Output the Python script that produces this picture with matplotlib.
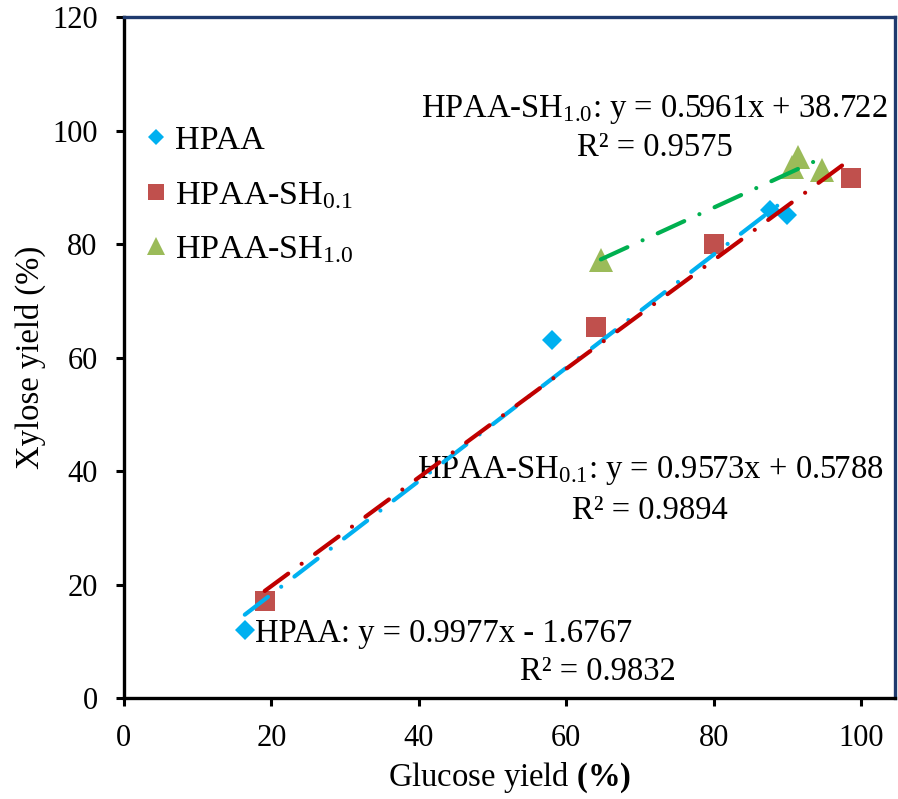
import matplotlib
matplotlib.use('Agg')
import matplotlib.pyplot as plt
import numpy as np

# data
hpaa_x = [16.4, 58.1, 87.6, 90.0]
hpaa_y = [12.0, 63.1, 86.0, 85.1]
sh01_x = [19.1, 64.0, 80.1, 98.6]
sh01_y = [17.1, 65.4, 80.0, 91.6]
sh10_x = [64.7, 90.6, 91.4, 94.7]
sh10_y = [77.2, 93.6, 95.4, 93.0]

# trendline coefficients as printed
hpaa_fit = (0.9977, -1.6767)
sh01_fit = (0.9573, 0.5788)
sh10_fit = (0.5961, 38.722)

plt.rcParams['font.family'] = ['Liberation Serif', 'DejaVu Serif']
plt.rcParams['mathtext.fontset'] = 'custom'
plt.rcParams['mathtext.rm'] = 'Liberation Serif'
plt.rcParams['mathtext.it'] = 'Liberation Serif:italic'
plt.rcParams['mathtext.bf'] = 'Liberation Serif:bold'
plt.rcParams['font.size'] = 23.5

fig = plt.figure(figsize=(8.98, 7.99), dpi=100)
ax = fig.add_axes([0.138, 0.1264, 0.8587, 0.8523])

blue = '#00B0F0'
red = '#C0504D'
green = '#9BBB59'

ax.plot(hpaa_x, hpaa_y, linestyle='none', marker='D', markersize=10.5,
        color=blue, markeredgewidth=0, label='HPAA', zorder=3)
ax.plot(sh01_x, sh01_y, linestyle='none', marker='s', markersize=15,
        color=red, markeredgewidth=0, label='HPAA-SH$_{0.1}$', zorder=3)
ax.plot(sh10_x, sh10_y, linestyle='none', marker='^', markersize=17,
        color=green, markeredgewidth=0, label='HPAA-SH$_{1.0}$', zorder=3)


def trend(xs, fit, color):
    xx = np.array([min(xs), max(xs)])
    yy = fit[0] * xx + fit[1]
    ax.plot(xx, yy, color=color, linewidth=3, dashes=(7, 4, 0.01, 4),
            dash_capstyle='round', zorder=4)


trend(hpaa_x, hpaa_fit, '#00B0F0')
trend(sh01_x, sh01_fit, '#C00000')
trend(sh10_x, sh10_fit, '#00B050')

ax.text(71.9, 102.4, 'HPAA-SH$_{\\mathrm{1.0}}$: y = 0.5961x + 38.722', ha='center', va='baseline')
ax.text(72.0, 95.5, 'R² = 0.9575', ha='center', va='baseline')
ax.text(71.4, 38.8, 'HPAA-SH$_{\\mathrm{0.1}}$: y = 0.9573x + 0.5788', ha='center', va='baseline')
ax.text(71.4, 31.5, 'R² = 0.9894', ha='center', va='baseline')
ax.text(17.8, 9.9, 'HPAA: y = 0.9977x - 1.6767', ha='left', va='baseline')
ax.text(64.3, 3.2, 'R² = 0.9832', ha='center', va='baseline')

ax.set_xlim(0, 104.6)
ax.set_ylim(0, 120)
ax.set_xticks(range(0, 101, 20))
ax.set_yticks(range(0, 121, 20))

ax.set_xlabel('Glucose yield $\\mathbf{(\\%)}$', labelpad=5)
ax.set_ylabel('Xylose yield (%)', labelpad=4)

for s in ['left', 'bottom']:
    ax.spines[s].set_linewidth(2.4)
    ax.spines[s].set_color('black')
for s in ['top', 'right']:
    ax.spines[s].set_linewidth(2.4)
    ax.spines[s].set_color('#1F3A6E')

ax.tick_params(axis='both', direction='out', length=6, width=2.2, labelsize=22)
ax.tick_params(axis='x', pad=13)
ax.tick_params(axis='y', pad=13)

ax.legend(loc='upper left', bbox_to_anchor=(0.026, 0.841), frameon=False,
          borderaxespad=0, borderpad=0, handlelength=0.7, handletextpad=0.2,
          labelspacing=0.7, markerscale=0.8, fontsize=24.5)

fig.savefig('out.png', dpi=100)
